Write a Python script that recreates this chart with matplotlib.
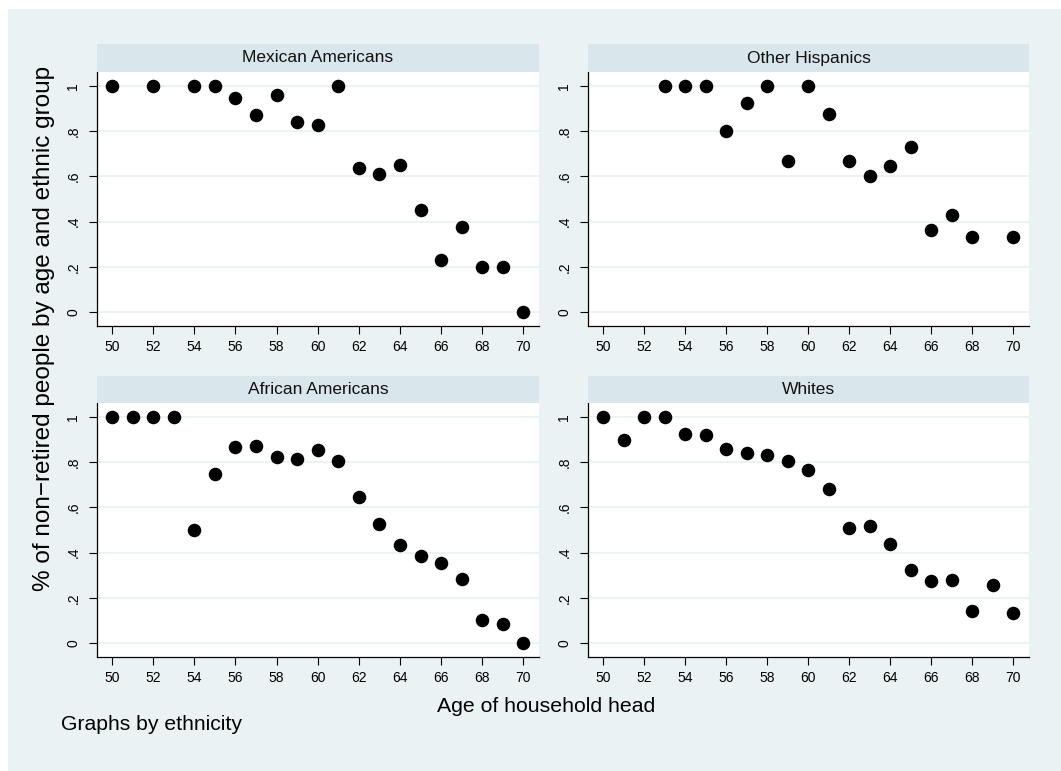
# Non-retired share by age, one panel per ethnic group (Stata-style by() graph)
import matplotlib
matplotlib.use("Agg")
import matplotlib.pyplot as plt
from matplotlib.patches import Rectangle

plt.rcParams['font.family'] = ['Liberation Sans', 'DejaVu Sans']

# data
ages_mex = [50, 52, 54, 55, 56, 57, 58, 59, 60, 61, 62, 63, 64, 65, 66, 67, 68, 69, 70]
vals_mex = [1, 1, 1, 1, 0.948, 0.870, 0.959, 0.839, 0.827, 1, 0.637, 0.612, 0.649,
            0.451, 0.229, 0.375, 0.2, 0.2, 0]

ages_oth = [53, 54, 55, 56, 57, 58, 59, 60, 61, 62, 63, 64, 65, 66, 67, 68, 70]
vals_oth = [1, 1, 1, 0.8, 0.923, 1, 0.667, 1, 0.875, 0.667, 0.6, 0.647, 0.729,
            0.364, 0.428, 0.333, 0.333]

ages_afr = [50, 51, 52, 53, 54, 55, 56, 57, 58, 59, 60, 61, 62, 63, 64, 65, 66, 67, 68, 69, 70]
vals_afr = [1, 1, 1, 1, 0.5, 0.75, 0.867, 0.872, 0.823, 0.813, 0.854, 0.804, 0.644,
            0.527, 0.433, 0.386, 0.353, 0.283, 0.102, 0.082, 0]

ages_wht = [50, 51, 52, 53, 54, 55, 56, 57, 58, 59, 60, 61, 62, 63, 64, 65, 66, 67, 68, 69, 70]
vals_wht = [1, 0.9, 1, 1, 0.923, 0.920, 0.859, 0.839, 0.831, 0.806, 0.764, 0.680, 0.508,
            0.517, 0.439, 0.324, 0.275, 0.278, 0.140, 0.256, 0.133]

titles = ['Mexican Americans', 'Other Hispanics', 'African Americans', 'Whites']
xticks = [50, 52, 54, 56, 58, 60, 62, 64, 66, 68, 70]
yticks = [0, 0.2, 0.4, 0.6, 0.8, 1]
ylabels = ['0', '.2', '.4', '.6', '.8', '1']

W, H = 1061, 771
bg = '#EAF2F3'
strip = '#D9E6EB'

fig = plt.figure(figsize=(W / 100, H / 100), dpi=100)
fig.patch.set_facecolor('white')
# outer Stata background, small white margin at top/left
fig.patches.append(Rectangle((8 / W, 0), 1 - 8 / W, 1 - 9 / H, transform=fig.transFigure,
                             facecolor=bg, edgecolor='none', zorder=-10))

# panel boxes in pixels: (left, right, top of plot, bottom of plot, top of strip)
boxes = [(97, 539, 72, 326, 44), (588, 1029, 72, 326, 44),
         (97, 539, 403, 657, 376), (588, 1029, 403, 657, 376)]
data = [(ages_mex, vals_mex), (ages_oth, vals_oth), (ages_afr, vals_afr), (ages_wht, vals_wht)]

for (l, r, t, b, st), (xs, ys), title in zip(boxes, data, titles):
    ax = fig.add_axes([l / W, (H - b) / H, (r - l) / W, (b - t) / H])
    ax.set_facecolor('white')
    for y in yticks:
        ax.axhline(y, color=bg, lw=1.3, zorder=1)
    ax.scatter(xs, ys, s=95, color='black', zorder=3, linewidths=0)
    ax.set_xlim(49.27, 70.76)
    ax.set_ylim(-0.062, 1.062)
    ax.set_xticks(xticks)
    ax.set_yticks(yticks)
    ax.set_yticklabels(ylabels, rotation=90, va='center')
    ax.tick_params(axis='both', labelsize=10, length=6, width=0.8, color='black')
    ax.tick_params(axis='y', pad=6)
    ax.tick_params(axis='x', pad=4)
    for s in ['top', 'right']:
        ax.spines[s].set_visible(False)
    for s in ['left', 'bottom']:
        ax.spines[s].set_linewidth(0.9)

    # header strip
    hx = fig.add_axes([l / W, (H - t) / H, (r - l) / W, (t - st) / H])
    hx.set_facecolor(strip)
    hx.set_xticks([])
    hx.set_yticks([])
    for s in hx.spines.values():
        s.set_visible(False)
    hx.text(0.5, 0.5, title, ha='center', va='center', fontsize=12.5, color='#111111',
            transform=hx.transAxes)

fig.text(546 / W, 1 - 706 / H, 'Age of household head', ha='center', va='center',
         fontsize=15.3)
fig.text(44 / W, 1 - 328 / H, '% of non\u2212retired people by age and ethnic group',
         ha='center', va='center', rotation=90, fontsize=17.5)
fig.text(61 / W, 1 - 725 / H, 'Graphs by ethnicity', ha='left', va='center', fontsize=15.2)

fig.savefig('out.png', dpi=100, facecolor=fig.get_facecolor())
